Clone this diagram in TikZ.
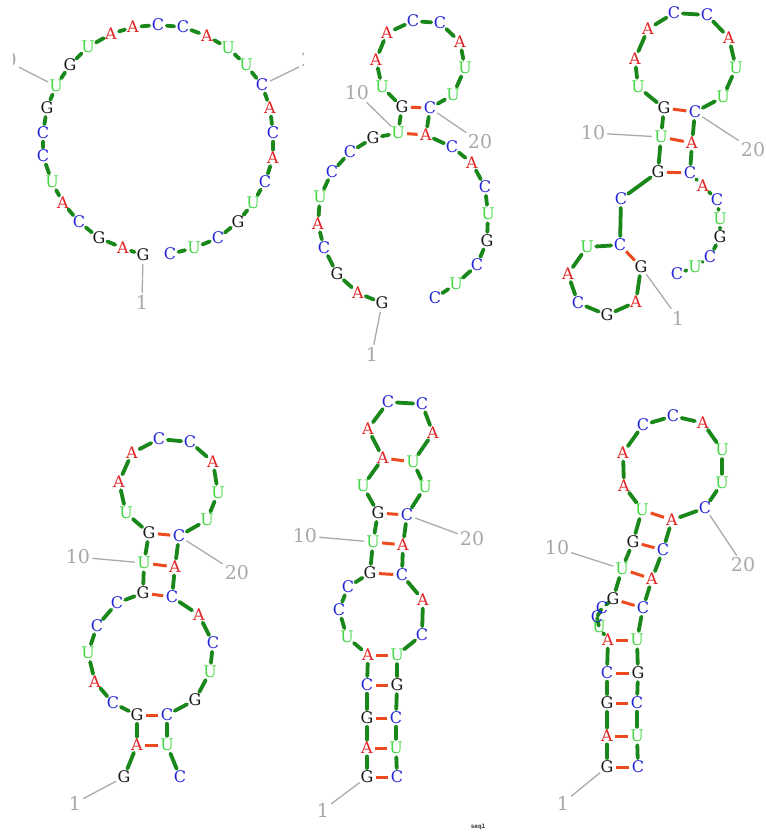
\documentclass[tikz,border=0pt]{standalone}
\usepackage{fontspec}
\setmainfont{DejaVu Serif}
\newfontfamily\seqfont{DejaVu Sans Mono}
\pgfdeclarelayer{bg}
\pgfdeclarelayer{paper}
\pgfsetlayers{paper,bg,main}
\definecolor{cA}{RGB}{225,35,35}
\definecolor{cC}{RGB}{35,35,215}
\definecolor{cG}{RGB}{25,25,25}
\definecolor{cU}{RGB}{70,215,70}
\definecolor{bbc}{RGB}{25,135,25}
\definecolor{bpc}{RGB}{235,75,30}
\definecolor{labc}{RGB}{168,168,168}
\definecolor{ptrc}{RGB}{170,170,176}
\tikzset{
  nt/.style={circle,inner sep=0pt,minimum size=13pt,font=\fontsize{16}{16}\selectfont},
  ntA/.style={nt,text=cA},
  ntC/.style={nt,text=cC},
  ntG/.style={nt,text=cG},
  ntU/.style={nt,text=cU},
  bb/.style={draw=bbc,line width=3.8pt,line cap=round},
  bp/.style={draw=bpc,line width=3pt},
  numlab/.style={text=labc,inner sep=2pt,font=\fontsize{19}{19}\selectfont},
  ptr/.style={draw=ptrc,line width=1.3pt},
}
\newcommand\rnapanel[2]{%
  \foreach \k/\s/\x/\y in {#2}{\node[nt\s] (#1-\k) at (\x,\y) {\s};}%
  \begin{pgfonlayer}{bg}%
    \foreach \k in {1,...,28}{\pgfmathtruncatemacro\kk{\k+1}\draw[bb] (#1-\k) -- (#1-\kk);}%
  \end{pgfonlayer}}
\newcommand\rnapairs[2]{%
  \begin{pgfonlayer}{bg}%
    \foreach \k/\m in {#2}{\draw[bp] (#1-\k) -- (#1-\m);}%
  \end{pgfonlayer}}
\newcommand\rnalabels[4]{%
  \node[numlab] (#1-l1) at (#2) {1};
  \node[numlab] (#1-l10) at (#3) {10};
  \node[numlab] (#1-l20) at (#4) {20};
  \begin{pgfonlayer}{bg}%
    \draw[ptr] (#1-1) -- (#1-l1);
    \draw[ptr] (#1-10) -- (#1-l10);
    \draw[ptr] (#1-20) -- (#1-l20);
  \end{pgfonlayer}}
\begin{document}
\begin{tikzpicture}[x=1pt,y=-1pt]
\useasboundingbox (0,0) rectangle (766,833);
\begin{pgfonlayer}{paper}
\fill[white] (0,0) rectangle (766,833);
\end{pgfonlayer}

% ---------- panel 1 : open chain ----------
\rnapanel{pa}{1/G/143/255, 2/A/123/248, 3/G/99/238, 4/C/79/222, 5/A/63/203, 6/U/52/182, 7/C/43/156, 8/C/43/133, 9/G/47/108, 10/U/56/86, 11/G/70/65, 12/U/88/47, 13/A/111/34, 14/A/133/27, 15/C/158/25, 16/C/183/27, 17/A/207/36, 18/U/228/48, 19/U/246/65, 20/C/262/85, 21/A/270/108, 22/C/273/133, 23/A/273/158, 24/C/265/182, 25/U/253/203, 26/G/238/222, 27/C/218/238, 28/U/194/248, 29/C/170/254}
\begin{scope}
  \clip (13.5,0) rectangle (303.5,330);
  \node[numlab] (pa-l1) at (142,302) {1};
  \node[numlab,anchor=east] (pa-l10) at (19,60) {10};
  \node[numlab,anchor=west] (pa-l20) at (299,60) {20};
\end{scope}
\begin{pgfonlayer}{bg}
  \draw[ptr] (pa-1) -- (pa-l1);
  \draw[ptr] (pa-10) -- (pa-l10);
  \draw[ptr] (pa-20) -- (pa-l20);
\end{pgfonlayer}

% ---------- panel 2 ----------
\rnapanel{pb}{1/G/382/303, 2/A/358/293, 3/G/337/274, 4/C/324/248, 5/A/318/224, 6/U/320/197, 7/C/332/172, 8/C/350/152, 9/G/373/138, 10/U/398/133, 11/G/402/107, 12/U/382/87, 13/A/376/60, 14/A/387/33, 15/C/413/21, 16/C/440/23, 17/A/460/42, 18/U/465/68, 19/U/453/95, 20/C/430/108, 21/A/426/135, 22/C/452/147, 23/A/472/163, 24/C/485/187, 25/U/488/214, 26/G/487/241, 27/C/477/265, 28/U/456/284, 29/C/435/298}
\rnapairs{pb}{10/21, 11/20}
\rnalabels{pb}{372,354}{357,93}{480,142}

% ---------- panel 3 ----------
\rnapanel{pc}{1/G/641/267, 2/A/636/302, 3/G/607/315, 4/C/578/303, 5/A/568/274, 6/U/587/247, 7/C/620/245, 8/C/621/199, 9/G/658/172, 10/U/661/137, 11/G/664/108, 12/U/638/87, 13/A/635/59, 14/A/648/29, 15/C/674/13, 16/C/707/15, 17/A/729/38, 18/U/736/68, 19/U/723/97, 20/C/695/112, 21/A/692/143, 22/C/690/173, 23/A/703/186, 24/C/717/200, 25/U/720/219, 26/G/720/237, 27/C/710/257, 28/U/695/267, 29/C/677/274}
\rnapairs{pc}{1/7, 9/22, 10/21, 11/20}
\rnalabels{pc}{678,318}{593,133}{753,150}

% ---------- panel 4 ----------
\rnapanel{pd}{1/G/124/777, 2/A/137/745, 3/G/137/715, 4/C/113/703, 5/A/95/682, 6/U/88/653, 7/C/97/626, 8/C/117/603, 9/G/143/593, 10/U/144/563, 11/G/149/533, 12/U/126/513, 13/A/119/482, 14/A/132/453, 15/C/159/439, 16/C/190/442, 17/A/213/462, 18/U/218/493, 19/U/207/520, 20/C/179/536, 21/A/175/567, 22/C/172/597, 23/A/199/615, 24/C/213/643, 25/U/210/672, 26/G/195/700, 27/C/167/715, 28/U/167/745, 29/C/180/777}
\rnapairs{pd}{2/28, 3/27, 9/22, 10/21, 11/20}
\rnalabels{pd}{75,803}{78,557}{237,573}

% ---------- panel 5 ----------
\rnapanel{pe}{1/G/367/777, 2/A/367/748, 3/G/367/718, 4/C/367/685, 5/A/368/655, 6/U/347/637, 7/C/339/610, 8/C/348/587, 9/G/370/573, 10/U/373/542, 11/G/378/513, 12/U/363/486, 13/A/383/458, 14/A/368/429, 15/C/388/402, 16/C/422/404, 17/A/433/433, 18/U/413/462, 19/U/425/487, 20/C/407/515, 21/A/403/545, 22/C/402/575, 23/A/423/600, 24/C/422/635, 25/U/397/655, 26/G/397/685, 27/C/396/718, 28/U/396/748, 29/C/397/777}
\rnapairs{pe}{1/29, 2/28, 3/27, 4/26, 5/25, 9/22, 10/21, 11/20, 13/18}
\rnalabels{pe}{323,810}{305,536}{472,539}
\node[font=\seqfont\bfseries\fontsize{6}{6}\selectfont,text=black!80,inner sep=0pt] (seqname) at (478,827) {seq1};

% ---------- panel 6 ----------
\rnapanel{pf}{1/G/607/767, 2/A/607/736, 3/G/607/703, 4/C/607/673, 5/A/608/640, 6/U/599/627, 7/C/597/617, 8/C/602/608, 9/G/613/599, 10/U/622/569, 11/G/633/542, 12/U/642/510, 13/A/624/486, 14/A/623/453, 15/C/643/425, 16/C/673/416, 17/A/703/423, 18/U/722/450, 19/U/722/483, 20/C/705/508, 21/A/672/520, 22/C/663/550, 23/A/652/579, 24/C/643/608, 25/U/637/640, 26/G/638/673, 27/C/637/703, 28/U/637/736, 29/C/638/767}
\rnapairs{pf}{1/29, 2/28, 3/27, 4/26, 5/25, 9/24, 10/23, 11/22, 12/21}
\rnalabels{pf}{563,803}{557,548}{743,565}
\end{tikzpicture}
\end{document}
